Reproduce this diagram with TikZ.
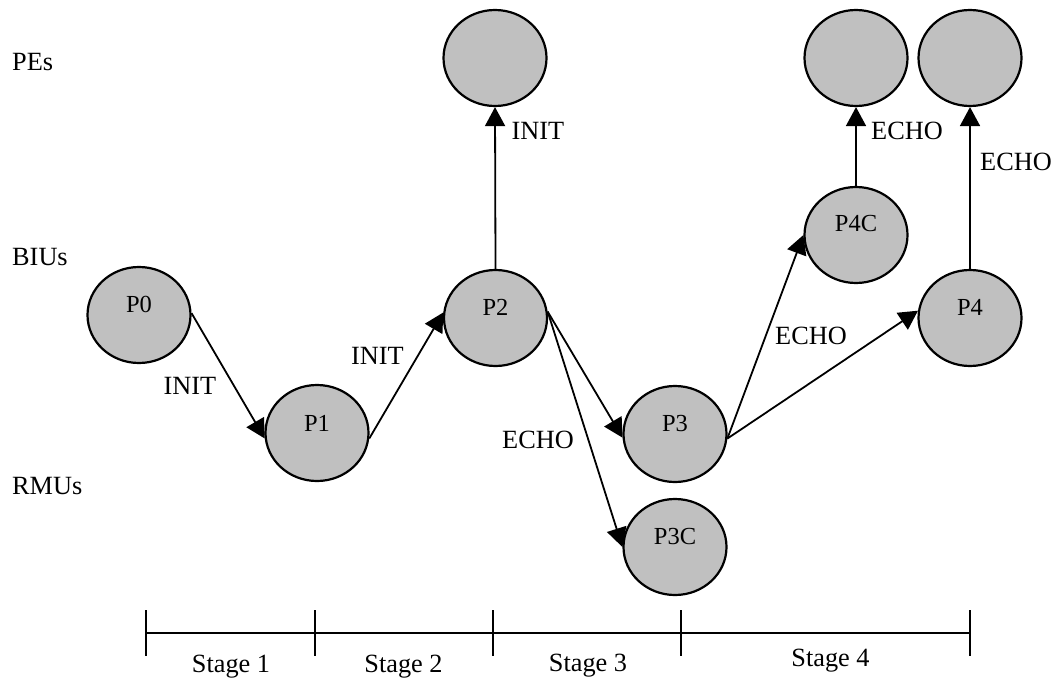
\documentclass[tikz,border=0pt]{standalone}
\usepackage{fontspec}
\setmainfont{Liberation Serif}
\usetikzlibrary{shapes.geometric,arrows.meta}

\definecolor{procfill}{RGB}{192,192,192}

\tikzset{
  proc/.style={ellipse, draw=black, line width=2.2pt, fill=procfill,
    minimum width=103pt, minimum height=96pt, inner sep=0pt},
  plabel/.style={font=\fontsize{24.5}{29}\selectfont, inner sep=0pt},
  txt/.style={font=\fontsize{26.3}{31}\selectfont, inner sep=0pt},
  rowlabel/.style={txt, anchor=west},
  msg/.style={line width=1.8pt, -{Triangle[length=19pt,width=20pt]}},
  tick/.style={line width=2pt},
}

\begin{document}
\begin{tikzpicture}[x=1pt, y=-1pt]
  \useasboundingbox (0,0) rectangle (1056,679);

  % layer names
  \node[rowlabel] (pes)  at (12,62.5)  {PEs};
  \node[rowlabel] (bius) at (12,257.5) {BIUs};
  \node[rowlabel] (rmus) at (12,486)   {RMUs};

  % processes
  \node[proc, label={[plabel, yshift=11pt]center:P0}]  (p0)  at (139,315) {};
  \node[proc, label={[plabel, yshift=10pt]center:P1}]  (p1)  at (317,433) {};
  \node[proc, label={[plabel, yshift=11pt]center:P2}]  (p2)  at (495.5,318) {};
  \node[proc, label={[plabel, yshift=10pt]center:P3}]  (p3)  at (675,434) {};
  \node[proc, label={[plabel, yshift=10pt]center:P3C}] (p3c) at (675,547) {};
  \node[proc, label={[plabel, yshift=11pt]center:P4C}] (p4c) at (856,235) {};
  \node[proc, label={[plabel, yshift=11pt]center:P4}]  (p4)  at (970,318) {};

  % processing elements
  \node[proc] (pe1) at (495,58) {};
  \node[proc] (pe2) at (856,58) {};
  \node[proc] (pe3) at (970,58) {};

  % messages
  \draw[msg] (p0.2)   -- (p1.186);
  \draw[msg] (p1.354) -- (p2.174);
  \draw[msg] (p2.north) -- (pe1.south);
  \draw[msg] (p2.7)   -- (p3.184);
  \draw[msg] (p2.7)   -- (p3c.west);
  \draw[msg] (p3.355) -- (p4c.west);
  \draw[msg] (p3.355) -- (p4.172);
  \draw[msg] (p4c.north) -- (pe2.south);
  \draw[msg] (p4.north)  -- (pe3.south);

  % message labels
  \node[txt] (l01)  at (190,386)    {INIT};
  \node[txt] (l12)  at (377.5,356)  {INIT};
  \node[txt] (l2e)  at (538,130.5)  {INIT};
  \node[txt] (l23)  at (538,440)    {ECHO};
  \node[txt] (l34)  at (811,336)    {ECHO};
  \node[txt] (l4ce) at (907,130.5)  {ECHO};
  \node[txt] (l4e)  at (1016,161.5) {ECHO};

  % stage axis
  \coordinate (s0) at (145.5,633);
  \coordinate (s1) at (314.5,633);
  \coordinate (s2) at (492.5,633);
  \coordinate (s3) at (681,633);
  \coordinate (s4) at (969.5,633);
  \draw[tick] (s0) -- (s4);
  \foreach \s in {s0,s1,s2,s3,s4}
    \draw[tick] ([yshift=23pt]\s) -- ([yshift=-23pt]\s);

  \node[txt, anchor=base] (st1) at (231,672)   {Stage 1};
  \node[txt, anchor=base] (st2) at (403.5,672) {Stage 2};
  \node[txt, anchor=base] (st3) at (588,671)   {Stage 3};
  \node[txt, anchor=base] (st4) at (830.5,666) {Stage 4};
\end{tikzpicture}
\end{document}
